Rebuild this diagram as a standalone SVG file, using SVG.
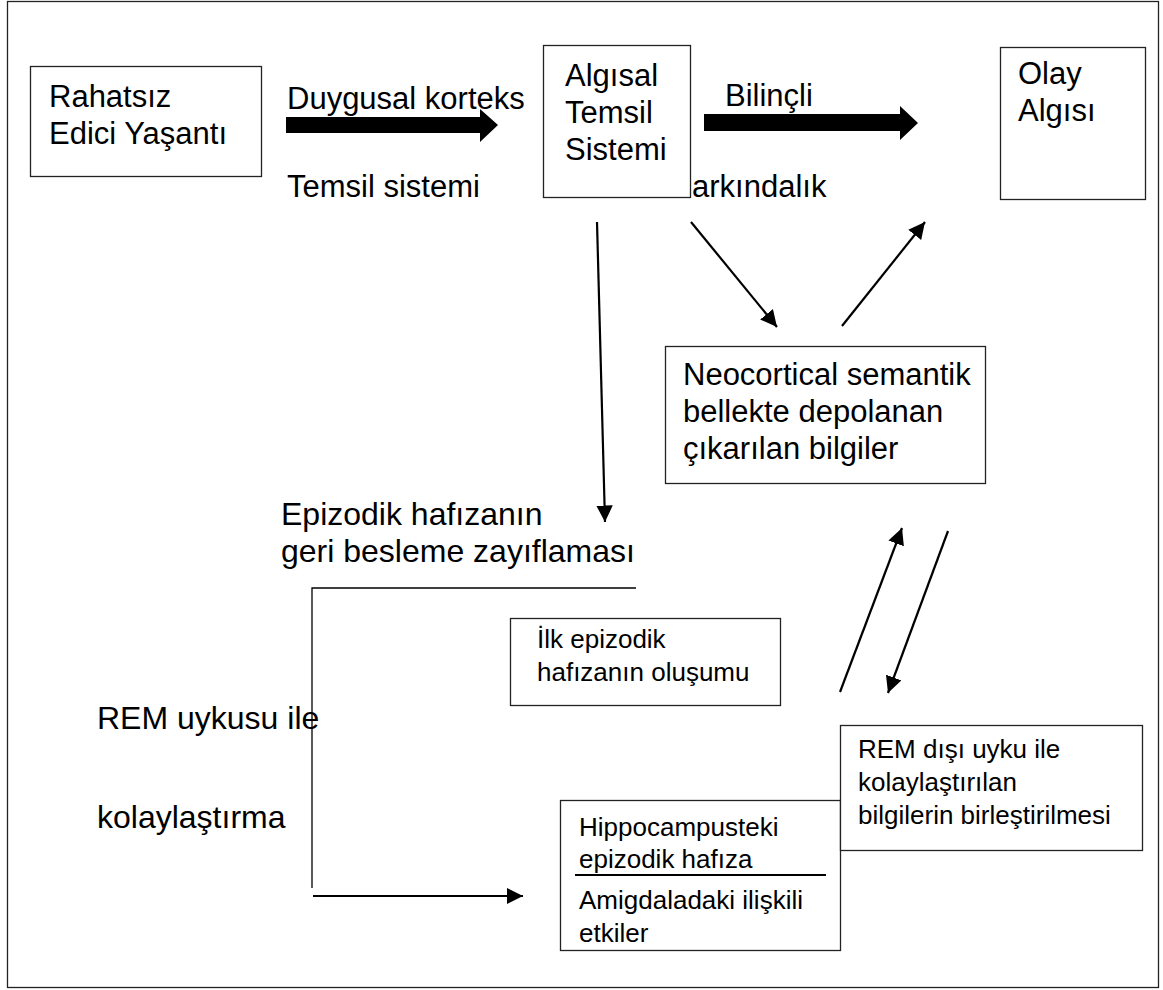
<svg xmlns="http://www.w3.org/2000/svg" width="1163" height="990" viewBox="0 0 1163 990">
<style>
.box{fill:#fff;stroke:#222;stroke-width:1.3}
.big{font-family:"Liberation Sans",Arial,sans-serif;font-size:31px;fill:#000}
.lab{font-family:"Liberation Sans",Arial,sans-serif;font-size:32px;fill:#000}
.sm{font-family:"Liberation Sans",Arial,sans-serif;font-size:26px;fill:#000}
.ln{stroke:#000;stroke-width:2.2;fill:none}
.thin{stroke:#000;stroke-width:1.3;fill:none}
.fat{fill:#000}
</style>
<defs>
<marker id="ah2" viewBox="0 0 10 10" refX="10" refY="5" markerWidth="7.5" markerHeight="7.5" orient="auto" markerUnits="strokeWidth"><path d="M0,0 L10,5 L0,10 z" fill="#000"/></marker>
</defs>
<rect x="7.5" y="1.5" width="1151" height="986" fill="#fff" stroke="#222" stroke-width="1.3"/>

<g id="labels">
<text class="big" x="287" y="109">Duygusal korteks</text>
<text class="big" x="287" y="197">Temsil sistemi</text>
<text class="big" x="692" y="197">arkındalık</text>
<text class="big" x="725" y="106">Bilinçli</text>
<text class="lab" x="281" y="525">Epizodik hafızanın</text>
<text class="lab" x="281" y="562">geri besleme zayıflaması</text>
<text class="lab" x="97" y="729">REM uykusu ile</text>
<text class="lab" x="97" y="828">kolaylaştırma</text>
</g>

<g id="node-rahatsiz">
<rect class="box" x="30.5" y="66.5" width="231" height="110"/>
<text class="big" x="49" y="107">Rahatsız</text>
<text class="big" x="49" y="144">Edici Yaşantı</text>
</g>

<g id="node-algisal">
<rect class="box" x="543.5" y="45.5" width="147" height="152"/>
<text class="big" x="565" y="86">Algısal</text>
<text class="big" x="565" y="123">Temsil</text>
<text class="big" x="565" y="160">Sistemi</text>
</g>

<g id="node-olay">
<rect class="box" x="1000.5" y="47.5" width="145" height="152"/>
<text class="big" x="1018" y="84">Olay</text>
<text class="big" x="1018" y="121">Algısı</text>
</g>

<g id="node-neocortical">
<rect class="box" x="665.5" y="346.5" width="320" height="137"/>
<text class="big" x="683" y="385">Neocortical semantik</text>
<text class="big" x="683" y="422">bellekte depolanan</text>
<text class="big" x="683" y="459">çıkarılan bilgiler</text>
</g>

<g id="node-ilk">
<rect class="box" x="510.5" y="618.5" width="270" height="87"/>
<text class="sm" x="537" y="648">İlk epizodik</text>
<text class="sm" x="537" y="681">hafızanın oluşumu</text>
</g>

<g id="node-hippocampus">
<rect class="box" x="560.5" y="800.5" width="280" height="150"/>
<text class="sm" x="579" y="836">Hippocampusteki</text>
<text class="sm" x="579" y="868">epizodik hafıza</text>
<line x1="575" y1="875" x2="826" y2="875" stroke="#000" stroke-width="2"/>
<text class="sm" x="579" y="909">Amigdaladaki ilişkili</text>
<text class="sm" x="579" y="942">etkiler</text>
</g>

<g id="node-remdisi">
<rect class="box" x="840.5" y="725.5" width="302" height="125"/>
<text class="sm" x="858" y="758">REM dışı uyku ile</text>
<text class="sm" x="858" y="791">kolaylaştırılan</text>
<text class="sm" x="858" y="824">bilgilerin birleştirilmesi</text>
</g>

<g id="connectors">
<polygon class="fat" points="286,117 480,117 480,109 498,125 480,142 480,133 286,133"/>
<polygon class="fat" points="704,114 900,114 900,106 918,123 900,140 900,131 704,131"/>
<line class="ln" x1="597" y1="222" x2="605" y2="522" marker-end="url(#ah2)"/>
<line class="ln" x1="691" y1="222" x2="777" y2="327" marker-end="url(#ah2)"/>
<line class="ln" x1="842" y1="326" x2="925" y2="222" marker-end="url(#ah2)"/>
<line class="ln" x1="840" y1="692" x2="902" y2="528" marker-end="url(#ah2)"/>
<line class="ln" x1="948" y1="531" x2="888" y2="693" marker-end="url(#ah2)"/>
<polyline class="thin" points="636,588 312,588 312,888"/>
<line class="ln" x1="313" y1="896" x2="523" y2="896" marker-end="url(#ah2)"/>
</g>
</svg>
